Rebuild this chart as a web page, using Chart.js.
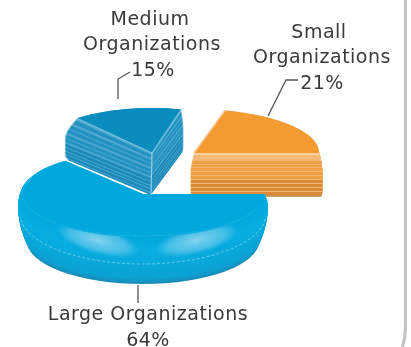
<!DOCTYPE html>
<html>
<head>
<meta charset="utf-8">
<style>
  html, body { margin: 0; padding: 0; background: #fff; overflow: hidden; }
  #wrap { position: relative; width: 411px; height: 347px; overflow: hidden; }
  #frame {
    position: absolute; left: -20px; top: -20px; width: 424px; height: 412px;
    border-right: 3px solid #c4c4c4; border-bottom: 3px solid #c4c4c4;
    border-bottom-right-radius: 68px;
  }
  canvas { position: absolute; left: 0; top: 0; }
</style>
<script src="https://cdn.jsdelivr.net/npm/chart.js@4"></script>
</head>
<body>
<div id="wrap">
  <div id="frame"></div>
  <canvas id="chart" width="411" height="347"></canvas>
</div>
<script>
const categories = ["Large Organizations", "Medium Organizations", "Small Organizations"];
const shares = [64, 15, 21];
const topColors = ["#00a8de", "#0a8cbf", "#f39a30"];

// where each wedge's top face sits, and how thick it is
const sliceX = [143, 152, 194];
const sliceY = [194, 153, 153];
const sliceRx = [122, 118, 125];
const sliceRy = [43, 45, 44];
const sliceDepth = [47, 42, 44];
// side walls swell out a little around this x
const bulgeX = [143, 165, 257];
const bulgeBy = [1, 1.14, 1.06];
const drawOrder = [2, 0, 1];

const mediumLight = [1, 2, 6, 7, 11, 15, 16, 20, 24, 25, 29, 33, 36, 40];
const smallLight = [12, 15, 19, 23, 27, 31, 35, 39];

function mix(a, b, t) {
  const c = a.map((v, i) => Math.round(v + (b[i] - v) * t));
  return `rgb(${c[0]},${c[1]},${c[2]})`;
}

function sideColor(index, row, depth) {
  const t = row / depth;
  if (index === 0) {
    // smooth wall, brightest around the middle and dark along the foot
    if (t < 0.3) return mix([2, 168, 222], [8, 174, 226], t / 0.3);
    if (t < 0.88) return mix([8, 174, 226], [12, 162, 212], (t - 0.3) / 0.58);
    return mix([12, 162, 212], [26, 141, 184], (t - 0.88) / 0.12);
  }
  if (index === 1) {
    if (mediumLight.includes(row)) return "#4ea8d0";
    return t > 0.6 ? "#1b8ab9" : "#2292c2";
  }
  if (row < 3) return "#f9d0a2";
  if (row < 9) return "#f6ba78";
  if (smallLight.includes(row)) return "#f4b672";
  if (row >= depth - 1) return "#c9965c";
  return t > 0.6 ? "#d98b35" : "#ef9f44";
}

function wallSwell(index, t) {
  if (index === 0) {
    // rounded shoulder at the top, tucked in at the foot
    const k = t < 0.25 ? 0.4 : 0.133;
    return 1.025 - k * Math.pow(t - 0.25, 2);
  }
  const rise = Math.sin((Math.min(1, t * 2) * Math.PI) / 2);
  const fall = t > 0.85 ? 1 - 0.3 * Math.pow((t - 0.85) / 0.15, 2) : 1;
  return 1 + (bulgeBy[index] - 1) * rise * fall;
}

function wedgePath(ctx, arc) {
  ctx.beginPath();
  ctx.moveTo(0, 0);
  ctx.arc(0, 0, arc.outerRadius, arc.startAngle, arc.endAngle);
  ctx.closePath();
}

function drawWalls(ctx, arc, index) {
  const depth = sliceDepth[index];
  const sx = sliceRx[index] / arc.outerRadius;
  const sy = sliceRy[index] / arc.outerRadius;
  for (let row = depth; row >= 0; row--) {
    ctx.save();
    ctx.translate(bulgeX[index], 0);
    ctx.scale(wallSwell(index, row / depth), 1);
    ctx.translate(sliceX[index] - bulgeX[index], sliceY[index] + row);
    ctx.scale(sx, sy);
    wedgePath(ctx, arc);
    ctx.fillStyle = sideColor(index, row, depth);
    ctx.fill();
    ctx.restore();
  }
}

// glossy patches and the stepped trim on the big wedge's wall
function drawLargeTrim(ctx) {
  const blobs = [
    [98, 240, 43, 14, 0.27],
    [197, 240, 43, 14, -0.25],
  ];
  blobs.forEach(([x, y, rx, ry, tilt]) => {
    ctx.save();
    ctx.translate(x, y);
    ctx.rotate(tilt);
    ctx.scale(rx, ry);
    const glow = ctx.createRadialGradient(0, 0, 0, 0, 0, 1);
    glow.addColorStop(0, "rgba(175,225,242,0.75)");
    glow.addColorStop(0.7, "rgba(150,215,240,0.42)");
    glow.addColorStop(1, "rgba(120,205,235,0)");
    ctx.fillStyle = glow;
    ctx.beginPath();
    ctx.arc(0, 0, 1, 0, Math.PI * 2);
    ctx.fill();
    ctx.restore();
  });

  ctx.save();
  ctx.strokeStyle = "rgba(225,245,252,0.45)";
  ctx.lineWidth = 1;
  ctx.setLineDash([3, 2]);
  ctx.beginPath();
  ctx.ellipse(143, 214, 123, 50, 0, 0.1, Math.PI - 0.1);
  ctx.stroke();
  ctx.restore();
}

function drawEdges(ctx, arc, index) {
  const x = sliceX[index];
  const y = sliceY[index];
  const rx = sliceRx[index];
  const ry = sliceRy[index];
  const px = (a) => x + Math.cos(a) * rx;
  const py = (a) => y + Math.sin(a) * ry;
  ctx.save();
  if (index === 0) {
    ctx.strokeStyle = "rgba(200,238,250,0.35)";
    ctx.lineWidth = 1;
    ctx.setLineDash([1, 2]);
    ctx.beginPath();
    ctx.ellipse(x, y, rx - 1, ry - 1, 0, 0.3, Math.PI + 0.5);
    ctx.stroke();
  }
  if (index === 1) {
    ctx.strokeStyle = "#7cc4e0";
    ctx.lineWidth = 1.2;
    ctx.beginPath();
    ctx.moveTo(px(arc.startAngle), py(arc.startAngle));
    ctx.lineTo(x, y);
    ctx.lineTo(px(arc.endAngle), py(arc.endAngle));
    ctx.stroke();
    ctx.beginPath();
    ctx.moveTo(x, y);
    ctx.lineTo(x - 1, y + sliceDepth[1]);
    ctx.strokeStyle = "rgba(190,230,245,0.7)";
    ctx.stroke();
  }
  if (index === 2) {
    ctx.strokeStyle = "#f8c78f";
    ctx.lineWidth = 1.6;
    ctx.beginPath();
    ctx.moveTo(x, y);
    ctx.lineTo(px(arc.startAngle), py(arc.startAngle));
    ctx.stroke();
  }
  ctx.restore();
}

// extruded wedges, painted back to front; the top faces stay the library's arcs
const extrudedPie = {
  id: "extrudedPie",
  beforeDatasetsDraw(chart) {
    const ctx = chart.ctx;
    const arcs = chart.getDatasetMeta(0).data;
    drawOrder.forEach((index) => {
      const arc = arcs[index];
      drawWalls(ctx, arc, index);
      if (index === 0) drawLargeTrim(ctx);
      ctx.save();
      ctx.translate(sliceX[index], sliceY[index]);
      ctx.scale(sliceRx[index] / arc.outerRadius, sliceRy[index] / arc.outerRadius);
      ctx.translate(-arc.x, -arc.y);
      arc.draw(ctx);
      ctx.restore();
      drawEdges(ctx, arc, index);
    });
    return false;
  },
};

const calloutFont = '19px "DejaVu Sans"';
const calloutText = [
  [["Large Organizations", 148, 320], [shares[0] + "%", 148, 346]],
  [["Medium", 150, 25], ["Organizations", 152, 50], [shares[1] + "%", 153, 76]],
  [["Small", 319, 38], ["Organizations", 322, 63], [shares[2] + "%", 322, 89]],
];
const leaderLines = [
  [[138, 285], [138, 303]],
  [[118, 99], [118, 79], [130, 72]],
  [[268, 116], [286, 80], [298, 80]],
];

const callouts = {
  id: "callouts",
  afterDraw(chart) {
    const ctx = chart.ctx;
    ctx.save();
    ctx.strokeStyle = "#555";
    ctx.lineWidth = 1.3;
    leaderLines.forEach((line) => {
      ctx.beginPath();
      line.forEach(([x, y], i) => (i ? ctx.lineTo(x, y) : ctx.moveTo(x, y)));
      ctx.stroke();
    });
    ctx.fillStyle = "#3a3a3a";
    ctx.font = calloutFont;
    ctx.letterSpacing = "0.5px";
    ctx.textAlign = "center";
    ctx.textBaseline = "alphabetic";
    calloutText.flat().forEach(([text, x, y]) => ctx.fillText(text, x, y));
    ctx.restore();
  },
};

new Chart(document.getElementById("chart"), {
  type: "pie",
  data: {
    labels: categories,
    datasets: [{ data: shares, backgroundColor: topColors, borderWidth: 0 }],
  },
  options: {
    responsive: false,
    animation: false,
    rotation: 90,
    plugins: { legend: { display: false }, tooltip: { enabled: false } },
  },
  plugins: [extrudedPie, callouts],
});
</script>
</body>
</html>
